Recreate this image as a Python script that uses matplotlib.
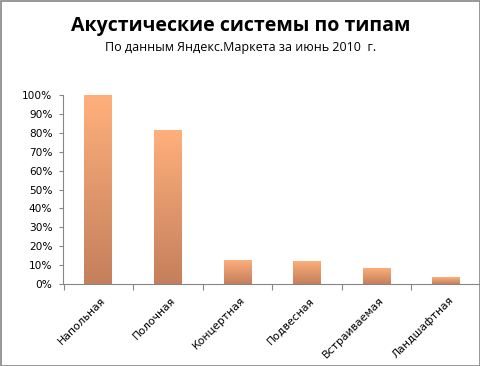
import matplotlib
matplotlib.use("Agg")
import matplotlib.pyplot as plt
import numpy as np
from matplotlib.colors import LinearSegmentedColormap

categories = ["Напольная", "Полочная", "Концертная", "Подвесная", "Встраиваемая", "Ландшафтная"]
values = [100, 81.5, 12.7, 12.2, 8.5, 3.7]
yticks = [0, 10, 20, 30, 40, 50, 60, 70, 80, 90, 100]
title = "Акустические системы по типам"
subtitle = "По данным Яндекс.Маркета за июнь 2010  г."

fig = plt.figure(figsize=(4.81, 3.66), dpi=100)
fig.patch.set_facecolor("white")
W, H = 481, 366
ax = fig.add_axes([63.5 / W, 1 - 284 / H, (481 - 63.5) / W, (284 - 95) / H])

cmap = LinearSegmentedColormap.from_list("g", ["#c47f5c", "#ffb07c"])
x = np.arange(len(categories))
bars = ax.bar(x, values, width=0.4, color="none", zorder=2)
grad = np.linspace(0, 1, 256).reshape(-1, 1)
for b in bars:
    bx = b.get_x()
    im = ax.imshow(grad, extent=[bx, bx + b.get_width(), 0, b.get_height()], origin="lower",
                   cmap=cmap, aspect="auto", zorder=2)
    im.set_clip_path(b)

ax.set_xlim(-0.5, len(categories) - 0.5)
ax.set_ylim(0, 100)
ax.set_yticks(yticks)
ax.set_yticklabels([f"{v}%" for v in yticks], fontsize=7.6, family="DejaVu Sans")
ax.set_xticks(np.arange(len(categories)) - 0.5, minor=False)
ax.set_xticklabels([])
ax.set_xticks(x + 0.03, minor=True)
ax.set_xticklabels(categories, minor=True, rotation=45, ha="right", rotation_mode="anchor",
                   fontsize=7.8, family="DejaVu Sans")
ax.tick_params(axis="x", which="minor", length=0, pad=8)
ax.tick_params(axis="x", which="major", length=4, color="#868686", direction="out")
ax.tick_params(axis="y", length=3, color="#868686", direction="out", pad=5)
for s in ["top", "right"]:
    ax.spines[s].set_visible(False)
for s in ["left", "bottom"]:
    ax.spines[s].set_color("#868686")
ax.set_facecolor("none")

fig.text(0.5, 1 - 26 / H, title, ha="center", va="center", fontsize=14, fontweight="bold", family="Open Sans")
fig.text(0.5, 1 - 48 / H, subtitle, ha="center", va="center", fontsize=9, family="Open Sans")

border = plt.Rectangle((0.5 / W, 0.5 / H), 1 - 1.5 / W, 1 - 1.5 / H, transform=fig.transFigure,
                       fill=False, edgecolor="#868686", linewidth=1.2)
fig.add_artist(border)

fig.savefig("out.png", dpi=100)
